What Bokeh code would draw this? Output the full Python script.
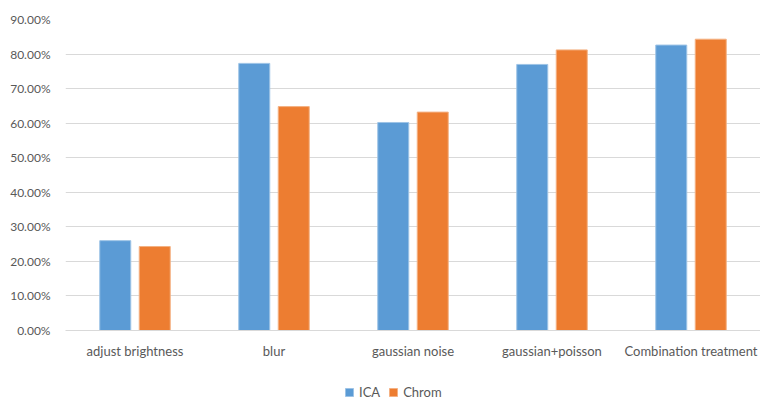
from bokeh.plotting import figure
from bokeh.layouts import column
from bokeh.models import ColumnDataSource, NumeralTickFormatter, Legend, LegendItem, FactorRange, Range1d
from bokeh.transform import dodge
from bokeh.embed import file_html
from bokeh.resources import INLINE

categories = ["adjust brightness", "blur", "gaussian noise", "gaussian+poisson", "Combination treatment"]
ica = [0.260, 0.773, 0.602, 0.770, 0.826]
chrom = [0.243, 0.648, 0.632, 0.812, 0.843]
y_ticks = [0.0, 0.1, 0.2, 0.3, 0.4, 0.5, 0.6, 0.7, 0.8, 0.9]
series_names = ["ICA", "Chrom"]
series_colors = ["#5B9BD5", "#ED7D31"]
series_edges = ["#9DC3E6", "#F4B183"]

src = ColumnDataSource(dict(cat=categories, ica=ica, chrom=chrom))

FONT = "Lato"
GREY = "#595959"

p = figure(x_range=FactorRange(*categories, range_padding=0), y_range=(0, 0.9),
           width=760, height=374, output_backend="svg", toolbar_location=None,
           min_border_left=65, min_border_right=0, min_border_top=19, min_border_bottom=44)
p.outline_line_color = None

p.vbar(x=dodge("cat", -0.142, range=p.x_range), top="ica", width=0.223, source=src,
       fill_color=series_colors[0], line_color=series_edges[0], line_width=1)
p.vbar(x=dodge("cat", 0.142, range=p.x_range), top="chrom", width=0.223, source=src,
       fill_color=series_colors[1], line_color=series_edges[1], line_width=1)

p.xgrid.grid_line_color = None
p.ygrid.grid_line_color = "#D9D9D9"
p.ygrid.grid_line_width = 1
p.yaxis.ticker = y_ticks
p.yaxis.formatter = NumeralTickFormatter(format="0.00%")
p.yaxis.axis_line_color = None
p.yaxis.major_tick_line_color = None
p.yaxis.minor_tick_line_color = None
p.yaxis.major_label_text_font = FONT
p.yaxis.major_label_text_font_size = "12px"
p.yaxis.major_label_text_color = GREY
p.yaxis.major_label_standoff = 9

p.xaxis.axis_line_color = "#D9D9D9"
p.xaxis.major_tick_line_color = None
p.xaxis.minor_tick_line_color = None
p.xaxis.major_tick_out = 0
p.xaxis.major_tick_in = 0
p.xaxis.major_label_text_font = FONT
p.xaxis.major_label_text_font_size = "13px"
p.xaxis.major_label_text_color = GREY
p.xaxis.major_label_standoff = 12

# legend strip (legend-only figure; its proxy bars sit outside the visible range)
p2 = figure(width=760, height=25, output_backend="svg", toolbar_location=None,
            x_range=Range1d(0, 1), y_range=Range1d(0, 1),
            min_border_left=0, min_border_right=0, min_border_top=0, min_border_bottom=0)
p2.axis.visible = False
p2.grid.visible = False
p2.outline_line_color = None
items = []
for name, fc, lc in zip(series_names, series_colors, series_edges):
    r = p2.vbar(x="x", top="top", width=0.1, source=ColumnDataSource(dict(x=[-10.0], top=[0.0])),
                fill_color=fc, line_color=lc)
    items.append(LegendItem(label=name, renderers=[r]))
legend = Legend(items=items, orientation="horizontal", location=(279, -1))
legend.label_text_font = FONT
legend.label_text_font_size = "13px"
legend.label_text_color = GREY
legend.glyph_width = 10
legend.glyph_height = 10
legend.label_standoff = 5
legend.spacing = 8
legend.border_line_color = None
legend.background_fill_alpha = 0
legend.margin = 0
legend.padding = 0
legend.label_height = 14
p2.add_layout(legend, "center")

layout = column(p, p2, spacing=0)
open("out.html", "w").write(file_html(layout, INLINE))
